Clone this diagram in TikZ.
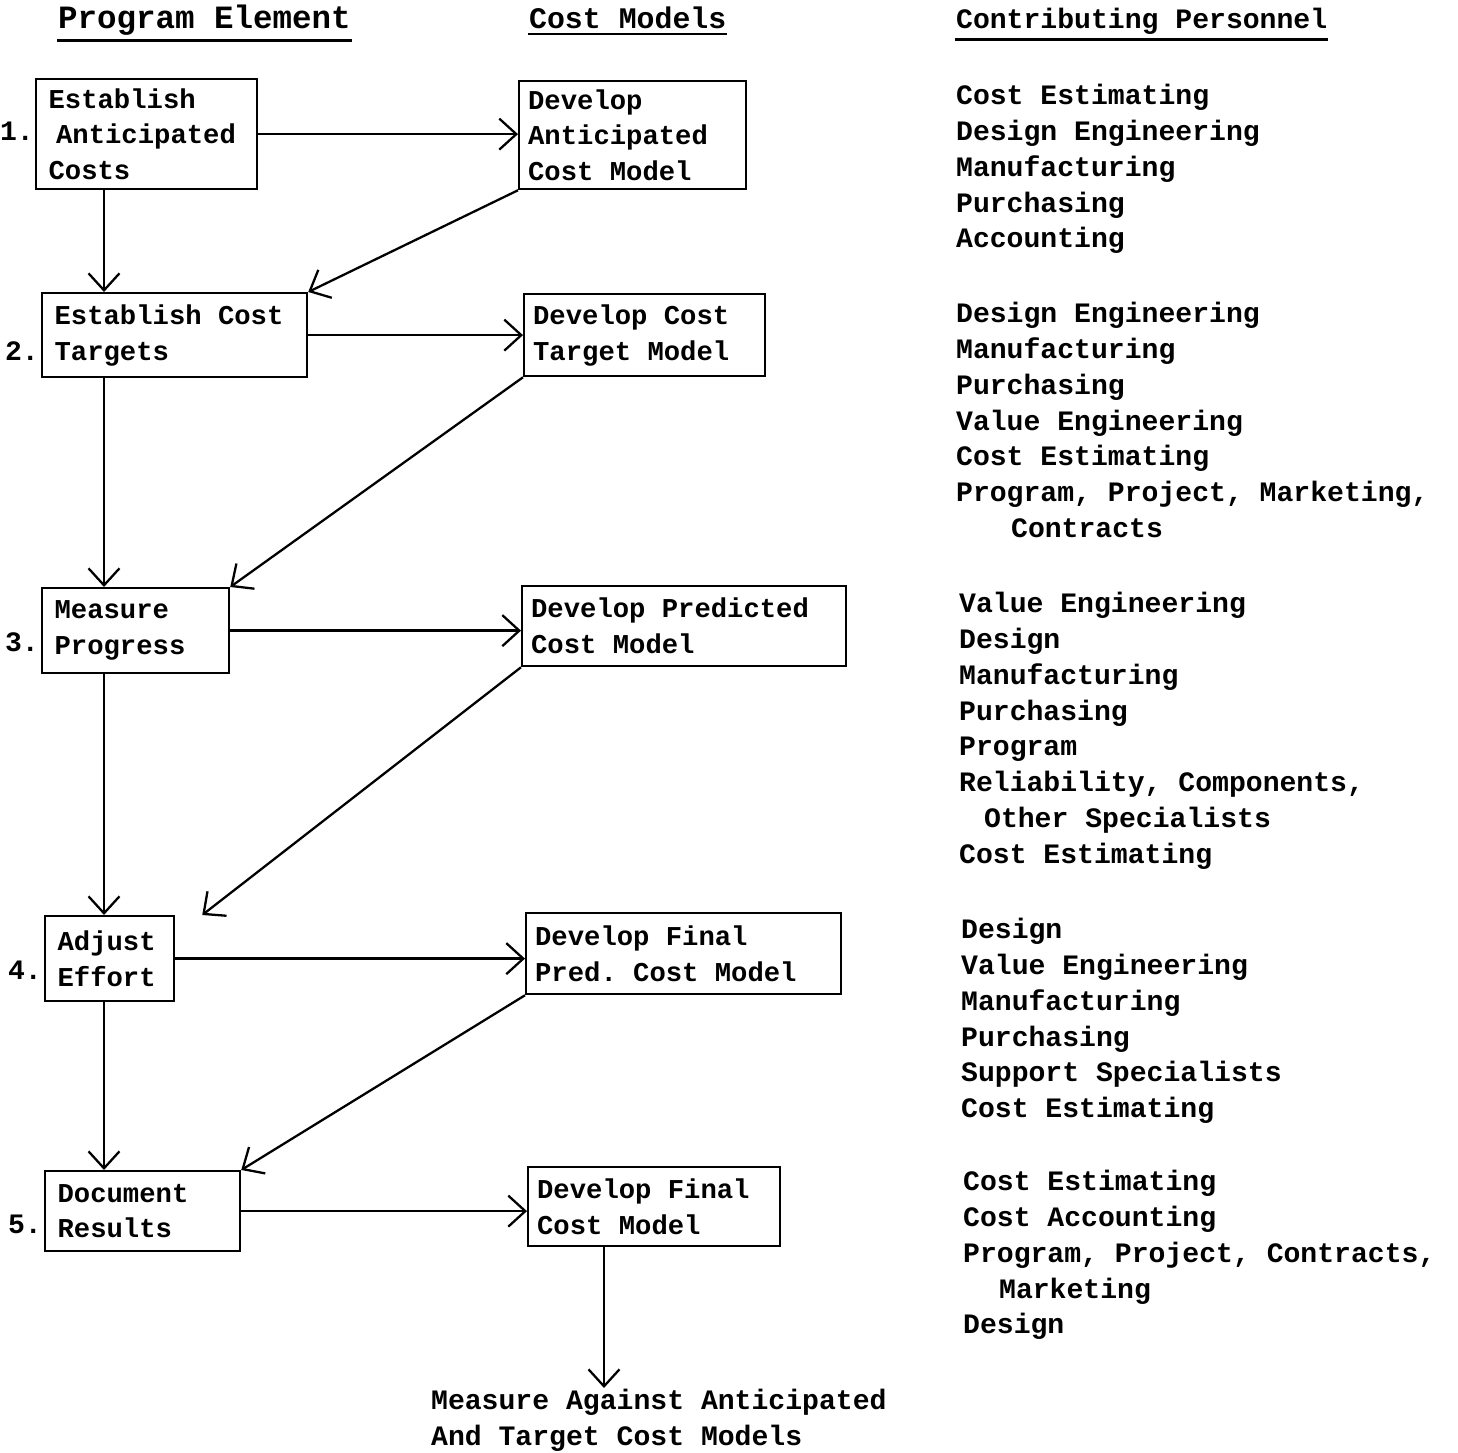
\documentclass[tikz,border=0pt]{standalone}
\usepackage{fontspec}
\setmonofont{Liberation Mono}
\usetikzlibrary{arrows.meta}
\newcommand{\boxfont}{\ttfamily\bfseries\fontsize{15.5}{20.4}\selectfont}
\newcommand{\listfont}{\ttfamily\bfseries\fontsize{16}{20.4}\selectfont}
\newcommand{\headfont}{\ttfamily\bfseries\fontsize{17}{20}\selectfont}

\begin{document}
\begin{tikzpicture}[x=0.02cm, y=-0.02cm,
    element/.style = {draw, anchor=north west, align=left, inner xsep=0.25cm, inner ysep=0pt, font=\boxfont,
                      execute at begin node={\spaceskip=0pt\xspaceskip=0pt}},
    model/.style = {element, inner xsep=0.18cm},
    staff/.style = {anchor=north west, align=left, inner sep=0pt, font=\listfont},
    head/.style = {anchor=base west, inner sep=0pt, font=\headfont},
    num/.style = {anchor=east, inner sep=0pt, font=\listfont},
    every path/.style = {line width=1.3pt},
    >={Straight Barb[length=0.34cm,width=0.62cm]}]
    \useasboundingbox (0,0) rectangle (1458,1453);
    % column heads
    \node[head, font=\headfont\fontsize{18.5}{20}\selectfont] (h1) at (57,29) {Program Element};
    \node[head] (h2) at (528,29) {Cost Models};
    \node[head, font=\headfont\fontsize{16}{20}\selectfont] (h3) at (955,29) {Contributing Personnel};
    \foreach \h in {h1,h2,h3}
        \draw ([yshift=-2pt]\h.south west) -- ([yshift=-2pt]\h.south east);
    % program elements
    \node[element, minimum width=4.42cm, minimum height=2.2cm, text width=3.92cm] (1) at (35,78) {Establish\\\hspace*{0.15cm}Anticipated\\Costs};
    \node[element, minimum width=5.3cm, minimum height=1.68cm, text width=4.8cm] (2) at (41,292) {Establish Cost\\Targets};
    \node[element, minimum width=3.74cm, minimum height=1.7cm, text width=3.24cm] (3) at (41,587) {Measure\\Progress};
    \node[element, minimum width=2.58cm, minimum height=1.7cm, text width=2.08cm] (4) at (44,915) {Adjust\\Effort};
    \node[element, minimum width=3.9cm, minimum height=1.6cm, text width=3.4cm] (5) at (44,1170) {Document\\Results};
    \node[num] (l1) at (35,131) {1.};
    \node[num] (l2) at (40,351) {2.};
    \node[num] (l3) at (40,642) {3.};
    \node[num] (l4) at (43,970) {4.};
    \node[num] (l5) at (43,1224) {5.};
    % cost models
    \node[model, minimum width=4.54cm, minimum height=2.16cm, text width=4.18cm] (m1) at (518,80) {Develop\\Anticipated\\Cost Model};
    \node[model, minimum width=4.82cm, minimum height=1.64cm, text width=4.46cm] (m2) at (523,293) {Develop Cost\\Target Model};
    \node[model, minimum width=6.48cm, minimum height=1.6cm, text width=6.12cm] (m3) at (521,585) {Develop Predicted\\Cost Model};
    \node[model, minimum width=6.3cm, minimum height=1.62cm, text width=5.94cm] (m4) at (525,912) {Develop Final\\Pred. Cost Model};
    \node[model, minimum width=5.04cm, minimum height=1.58cm, text width=4.68cm] (m5) at (527,1166) {Develop Final\\Cost Model};
    \node[staff] (goal) at (430,1388) {Measure Against Anticipated\\And Target Cost Models};
    % personnel
    \node[staff] (p1) at (955,83) {Cost Estimating\\Design Engineering\\Manufacturing\\Purchasing\\Accounting};
    \node[staff] (p2) at (955,301) {Design Engineering\\Manufacturing\\Purchasing\\Value Engineering\\Cost Estimating\\Program, Project, Marketing,\\\hspace*{1.1cm}Contracts};
    \node[staff] (p3) at (958,591) {Value Engineering\\Design\\Manufacturing\\Purchasing\\Program\\Reliability, Components,\\\hspace*{0.5cm}Other Specialists\\Cost Estimating};
    \node[staff] (p4) at (960,917) {Design\\Value Engineering\\Manufacturing\\Purchasing\\Support Specialists\\Cost Estimating};
    \node[staff] (p5) at (962,1169) {Cost Estimating\\Cost Accounting\\Program, Project, Contracts,\\\hspace*{0.72cm}Marketing\\Design};
    \coordinate (spine) at (104,0);
    \coordinate (drop) at (604,0);
    \path[->]
        (1.east) edge (1.east -| m1.west)
        (2.east) edge (2.east -| m2.west)
        (3.east) edge (3.east -| m3.west)
        (4.east) edge (4.east -| m4.west)
        (5.east) edge (5.east -| m5.west)
        (1.south -| spine) edge (2.north -| spine)
        (2.south -| spine) edge (3.north -| spine)
        (3.south -| spine) edge (4.north -| spine)
        (4.south -| spine) edge (5.north -| spine)
        (m1.south west) edge (2.north east)
        (m2.south west) edge (3.north east)
        (m3.south west) edge ([xshift=0.54cm]4.north east)
        (m4.south west) edge (5.north east)
        (m5.south -| drop) edge (goal.north -| drop);
\end{tikzpicture}
\end{document}
